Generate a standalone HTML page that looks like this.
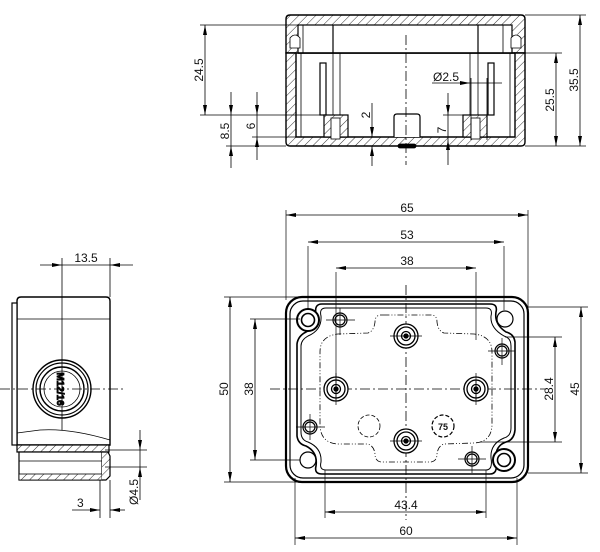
<!DOCTYPE html>
<html><head><meta charset="utf-8"><style>
html,body{margin:0;padding:0;background:#fff;}
svg{display:block;}
text{font-family:"Liberation Sans",sans-serif;font-size:12px;fill:#111;}
</style></head><body>
<svg width="600" height="552" viewBox="0 0 600 552" xmlns="http://www.w3.org/2000/svg">
<defs>
<marker id="a" viewBox="0 0 10 4" refX="10" refY="2" markerWidth="10" markerHeight="4" markerUnits="userSpaceOnUse" orient="auto-start-reverse"><path d="M0,0 L10,2 L0,4z" fill="#000"/></marker>
<pattern id="h" width="6" height="6" patternUnits="userSpaceOnUse" patternTransform="rotate(45)"><rect width="6" height="6" fill="#fff"/><line x1="0" y1="0" x2="0" y2="6" stroke="#000" stroke-width="0.8"/></pattern>
</defs>
<g fill="none" stroke="#000" stroke-width="0.8">

<!-- ===== TOP SECTION VIEW ===== -->
<path d="M286,53 L286,19 Q286,15 290,15 L521,15 Q525,15 525,19 L525,53 Z" fill="url(#h)" stroke-width="1.4"/>
<rect x="298" y="25" width="214" height="28" fill="#fff" stroke-width="1.2"/>
<path d="M286,53 L286,142 Q286,146 290,146 L521,146 Q525,146 525,142 L525,53 L515,53 L515,137 L296,137 L296,53 Z" fill="url(#h)" stroke-width="1.4"/>
<line x1="298" y1="53" x2="515" y2="53" stroke-width="1.6"/>
<line x1="303" y1="25" x2="303" y2="53"/><line x1="333" y1="25" x2="333" y2="53" stroke-width="1.2"/>
<line x1="478" y1="25" x2="478" y2="53" stroke-width="1.2"/><line x1="503" y1="25" x2="503" y2="53"/>
<path d="M290,48 L290,38 Q295,32 300,38 L300,48Z" fill="#fff"/>
<path d="M511,48 L511,38 Q516,32 521,38 L521,48Z" fill="#fff"/>
<line x1="301" y1="53" x2="301" y2="137"/><line x1="510" y1="53" x2="510" y2="137"/>
<rect x="320" y="63" width="6" height="52" fill="#fff" stroke-width="1.2"/>
<rect x="488" y="63" width="6" height="52" fill="#fff" stroke-width="1.2"/>
<line x1="333" y1="53" x2="333" y2="115"/><line x1="340" y1="53" x2="340" y2="115"/>
<line x1="470" y1="53" x2="470" y2="115"/><line x1="478" y1="53" x2="478" y2="115"/>
<rect x="324" y="115" width="24" height="22" fill="url(#h)" stroke-width="1.2"/>
<rect x="331" y="118" width="9" height="21" fill="#fff"/>
<rect x="463" y="115" width="24" height="22" fill="url(#h)" stroke-width="1.2"/>
<rect x="471" y="118" width="9" height="21" fill="#fff"/>
<path d="M394,137 L394,117 Q394,114 397,114 L417,114 Q420,114 420,117 L420,137" fill="#fff" stroke-width="1.2"/>
<rect x="398" y="144" width="18" height="4" rx="2" fill="#000"/>
<line x1="406" y1="35" x2="406" y2="165" stroke-dasharray="10,3,2,3"/>
<!-- dims top -->
<line x1="200" y1="25" x2="303" y2="25"/><line x1="200" y1="115" x2="330" y2="115"/>
<line x1="205" y1="25" x2="205" y2="115" marker-start="url(#a)" marker-end="url(#a)"/>
<line x1="226" y1="146" x2="286" y2="146"/><line x1="252" y1="137" x2="300" y2="137"/>
<line x1="231" y1="92" x2="231" y2="115" marker-end="url(#a)"/><line x1="231" y1="115" x2="231" y2="146"/><line x1="231" y1="168" x2="231" y2="146" marker-end="url(#a)"/>
<line x1="257" y1="92" x2="257" y2="115" marker-end="url(#a)"/><line x1="257" y1="115" x2="257" y2="137"/><line x1="257" y1="160" x2="257" y2="137" marker-end="url(#a)"/>
<line x1="372" y1="103" x2="372" y2="137" marker-end="url(#a)"/><line x1="372" y1="166" x2="372" y2="146" marker-end="url(#a)"/>
<line x1="443" y1="115" x2="465" y2="115"/>
<line x1="448" y1="93" x2="448" y2="115" marker-end="url(#a)"/><line x1="448" y1="115" x2="448" y2="140"/><line x1="448" y1="165" x2="448" y2="140" marker-end="url(#a)"/>
<line x1="432" y1="83" x2="470" y2="83" marker-end="url(#a)"/><line x1="470" y1="83" x2="502" y2="83"/>
<line x1="471" y1="78" x2="471" y2="140"/><line x1="487" y1="78" x2="487" y2="140"/>
<line x1="517" y1="53" x2="562" y2="53"/><line x1="525" y1="146" x2="586" y2="146"/><line x1="525" y1="15" x2="586" y2="15"/>
<line x1="556" y1="53" x2="556" y2="146" marker-start="url(#a)" marker-end="url(#a)"/>
<line x1="580" y1="15" x2="580" y2="146" marker-start="url(#a)" marker-end="url(#a)"/>

<!-- ===== LEFT VIEW ===== -->
<path d="M17,445 L17,301 Q17,297 21,297 L106,297 Q110,297 110,301 L110,445 Z" fill="#fff" stroke-width="1.4"/>
<rect x="12" y="303" width="5" height="142" fill="#fff" stroke-width="1.2"/>
<line x1="17" y1="319" x2="110" y2="319"/>
<line x1="17" y1="433" x2="40" y2="430"/><path d="M40,430 Q70,428 110,440"/>
<rect x="17" y="445" width="92" height="7" fill="url(#h)" stroke-width="1.2"/>
<rect x="19" y="452" width="83" height="28" fill="#fff" stroke-width="1.2"/>
<line x1="19" y1="461" x2="102" y2="461"/>
<rect x="19" y="474" width="83" height="6" fill="url(#h)"/>
<path d="M102,452 L108,452 L110,456 L110,476 L106,480 L102,480" fill="url(#h)" stroke-width="1.2"/>
<circle cx="62" cy="389" r="29" stroke-width="1.4" fill="#fff"/>
<circle cx="62" cy="389" r="26" stroke-width="1.2"/>
<circle cx="62" cy="389" r="22" stroke-width="1.4"/>
<circle cx="62" cy="389" r="18"/>
<text x="0" y="0" transform="translate(57,389) rotate(90)" text-anchor="middle" style="font-size:10px;font-weight:bold">M12/16</text>
<line x1="0" y1="389" x2="125" y2="389" stroke-dasharray="10,3,2,3"/>
<line x1="62" y1="258" x2="62" y2="430"/>
<line x1="110" y1="258" x2="110" y2="297"/>
<line x1="40" y1="265" x2="62" y2="265" marker-end="url(#a)"/><line x1="62" y1="265" x2="110" y2="265"/><line x1="133" y1="265" x2="110" y2="265" marker-end="url(#a)"/>
<line x1="105" y1="450" x2="147" y2="450"/><line x1="105" y1="467" x2="147" y2="467"/>
<line x1="140" y1="430" x2="140" y2="450" marker-end="url(#a)"/><line x1="140" y1="450" x2="140" y2="467"/><line x1="140" y1="500" x2="140" y2="467" marker-end="url(#a)"/>
<line x1="100" y1="480" x2="100" y2="518"/><line x1="110" y1="480" x2="110" y2="518"/>
<line x1="72" y1="510" x2="100" y2="510" marker-end="url(#a)"/><line x1="125" y1="510" x2="110" y2="510" marker-end="url(#a)"/>

<!-- ===== PLAN VIEW ===== -->
<rect x="286" y="297" width="242" height="185" rx="16" stroke-width="2.2" fill="#fff"/>
<rect x="290" y="301" width="234" height="177" rx="13" stroke-width="1.2"/>
<path d="M322,304 L490,304 Q498,304 496,312 Q494,324 506,332 Q514,334 515,342 L515,430 Q514,440 506,442 Q494,446 496,462 Q498,474 490,474 L322,474 Q314,474 316,466 Q318,452 306,446 Q298,444 297,436 L297,344 Q298,336 306,332 Q318,326 316,314 Q314,304 322,304 Z" stroke-width="1.6"/>
<path d="M326,308 L486,308 Q493,308 491,316 Q490,328 504,336 Q511,338 511,346 L511,428 Q511,436 504,438 Q490,444 491,458 Q493,470 486,470 L326,470 Q319,470 321,462 Q322,448 308,442 Q301,440 301,432 L301,346 Q301,340 308,336 Q322,330 321,316 Q319,308 326,308 Z" stroke-width="1"/>
<path d="M386,315 L380,315 Q375,316 375,322 Q374,331 368,333 L338,334 Q320,336 320,352 L320,424 Q320,443 338,444 L368,444 Q374,446 375,454 Q375,461 381,462 L431,462 Q437,461 437,454 Q438,446 444,444 L474,443 Q492,442 492,424 L492,352 Q492,336 474,334 L444,333 Q438,331 437,322 Q437,315 431,315 Z" stroke-dasharray="6,2,1,2,1,2"/>
<line x1="270" y1="389" x2="545" y2="389" stroke-dasharray="10,3,2,3"/>
<line x1="406" y1="285" x2="406" y2="520" stroke-dasharray="10,3,2,3"/>
<circle cx="308" cy="320" r="11" stroke-width="2" fill="#fff"/><circle cx="308" cy="320" r="6.5" stroke-width="1.6"/>
<circle cx="504" cy="460" r="11" stroke-width="2" fill="#fff"/><circle cx="504" cy="460" r="6.5" stroke-width="1.6"/>
<circle cx="505" cy="319" r="8" stroke-width="1.2"/><circle cx="308" cy="460" r="8" stroke-width="1.2"/>
<g stroke-width="1.2" fill="#fff">
<circle cx="340" cy="320" r="7"/><circle cx="340" cy="320" r="5"/>
<circle cx="502" cy="351" r="7"/><circle cx="502" cy="351" r="5"/>
<circle cx="310" cy="427" r="7"/><circle cx="310" cy="427" r="5"/>
<circle cx="472" cy="459" r="7"/><circle cx="472" cy="459" r="5"/>
</g>
<g stroke-width="1.3" fill="#fff">
<circle cx="406" cy="336" r="12"/><circle cx="406" cy="336" r="9"/><circle cx="406" cy="336" r="4.5"/><circle cx="406" cy="336" r="2" fill="#000"/>
<circle cx="336" cy="389" r="12"/><circle cx="336" cy="389" r="9"/><circle cx="336" cy="389" r="4.5"/><circle cx="336" cy="389" r="2" fill="#000"/>
<circle cx="476" cy="389" r="12"/><circle cx="476" cy="389" r="9"/><circle cx="476" cy="389" r="4.5"/><circle cx="476" cy="389" r="2" fill="#000"/>
<circle cx="406" cy="441" r="12"/><circle cx="406" cy="441" r="9"/><circle cx="406" cy="441" r="4.5"/><circle cx="406" cy="441" r="2" fill="#000"/>
</g>
<circle cx="369" cy="426" r="11" stroke-dasharray="4,2"/>
<circle cx="443" cy="426" r="11" stroke-dasharray="4,2" stroke-width="1.2"/>
<text x="443" y="430" text-anchor="middle" stroke="none" style="font-size:9px;font-weight:bold">75</text>
<g stroke-width="0.7">
<line x1="336" y1="272" x2="336" y2="310"/><line x1="476" y1="272" x2="476" y2="340"/>
<line x1="308" y1="246" x2="308" y2="310"/><line x1="504" y1="246" x2="504" y2="310"/>
<line x1="286" y1="210" x2="286" y2="300"/><line x1="528" y1="210" x2="528" y2="310"/>
<line x1="336" y1="310" x2="336" y2="400"/><line x1="476" y1="380" x2="476" y2="400"/>
<line x1="326" y1="320" x2="355" y2="320"/><line x1="340" y1="308" x2="340" y2="335"/>
<line x1="488" y1="351" x2="515" y2="351"/><line x1="502" y1="338" x2="502" y2="365"/>
<line x1="296" y1="427" x2="325" y2="427"/><line x1="310" y1="414" x2="310" y2="440"/>
<line x1="458" y1="459" x2="486" y2="459"/><line x1="472" y1="446" x2="472" y2="473"/>
<line x1="390" y1="336" x2="422" y2="336"/><line x1="390" y1="441" x2="422" y2="441"/>
<line x1="336" y1="373" x2="336" y2="405"/><line x1="476" y1="373" x2="476" y2="405"/>
<line x1="528" y1="307" x2="588" y2="307"/><line x1="528" y1="473" x2="588" y2="473"/>
<line x1="505" y1="337" x2="562" y2="337"/><line x1="480" y1="442" x2="562" y2="442"/>
<line x1="224" y1="297" x2="300" y2="297"/><line x1="224" y1="482" x2="300" y2="482"/>
<line x1="250" y1="319" x2="300" y2="319"/><line x1="250" y1="460" x2="300" y2="460"/>
<line x1="325" y1="470" x2="325" y2="518"/><line x1="486" y1="470" x2="486" y2="518"/>
<line x1="295" y1="478" x2="295" y2="545"/><line x1="517" y1="478" x2="517" y2="545"/>
</g>
<line x1="286" y1="215" x2="528" y2="215" marker-start="url(#a)" marker-end="url(#a)"/>
<line x1="308" y1="242" x2="504" y2="242" marker-start="url(#a)" marker-end="url(#a)"/>
<line x1="336" y1="268" x2="476" y2="268" marker-start="url(#a)" marker-end="url(#a)"/>
<line x1="325" y1="512" x2="486" y2="512" marker-start="url(#a)" marker-end="url(#a)"/>
<line x1="295" y1="538" x2="517" y2="538" marker-start="url(#a)" marker-end="url(#a)"/>
<line x1="581" y1="307" x2="581" y2="473" marker-start="url(#a)" marker-end="url(#a)"/>
<line x1="555" y1="337" x2="555" y2="442" marker-start="url(#a)" marker-end="url(#a)"/>
<line x1="230" y1="297" x2="230" y2="482" marker-start="url(#a)" marker-end="url(#a)"/>
<line x1="255" y1="319" x2="255" y2="460" marker-start="url(#a)" marker-end="url(#a)"/>
</g>

<g>
<text transform="translate(203,70) rotate(-90)" text-anchor="middle">24.5</text>
<text transform="translate(229,131) rotate(-90)" text-anchor="middle">8.5</text>
<text transform="translate(255,126) rotate(-90)" text-anchor="middle">6</text>
<text transform="translate(370,115) rotate(-90)" text-anchor="middle">2</text>
<text transform="translate(446,130) rotate(-90)" text-anchor="middle">7</text>
<text x="433" y="81">Ø2.5</text>
<text transform="translate(554,100) rotate(-90)" text-anchor="middle">25.5</text>
<text transform="translate(578,80) rotate(-90)" text-anchor="middle">35.5</text>
<text x="86" y="262" text-anchor="middle">13.5</text>
<text transform="translate(138,492) rotate(-90)" text-anchor="middle">Ø4.5</text>
<text x="77" y="507">3</text>
<text x="407" y="212" text-anchor="middle">65</text>
<text x="407" y="239" text-anchor="middle">53</text>
<text x="407" y="265" text-anchor="middle">38</text>
<text x="406" y="509" text-anchor="middle">43.4</text>
<text x="406" y="535" text-anchor="middle">60</text>
<text transform="translate(228,389) rotate(-90)" text-anchor="middle">50</text>
<text transform="translate(253,389) rotate(-90)" text-anchor="middle">38</text>
<text transform="translate(553,389) rotate(-90)" text-anchor="middle">28.4</text>
<text transform="translate(579,389) rotate(-90)" text-anchor="middle">45</text>
</g>
</svg>
</body></html>
